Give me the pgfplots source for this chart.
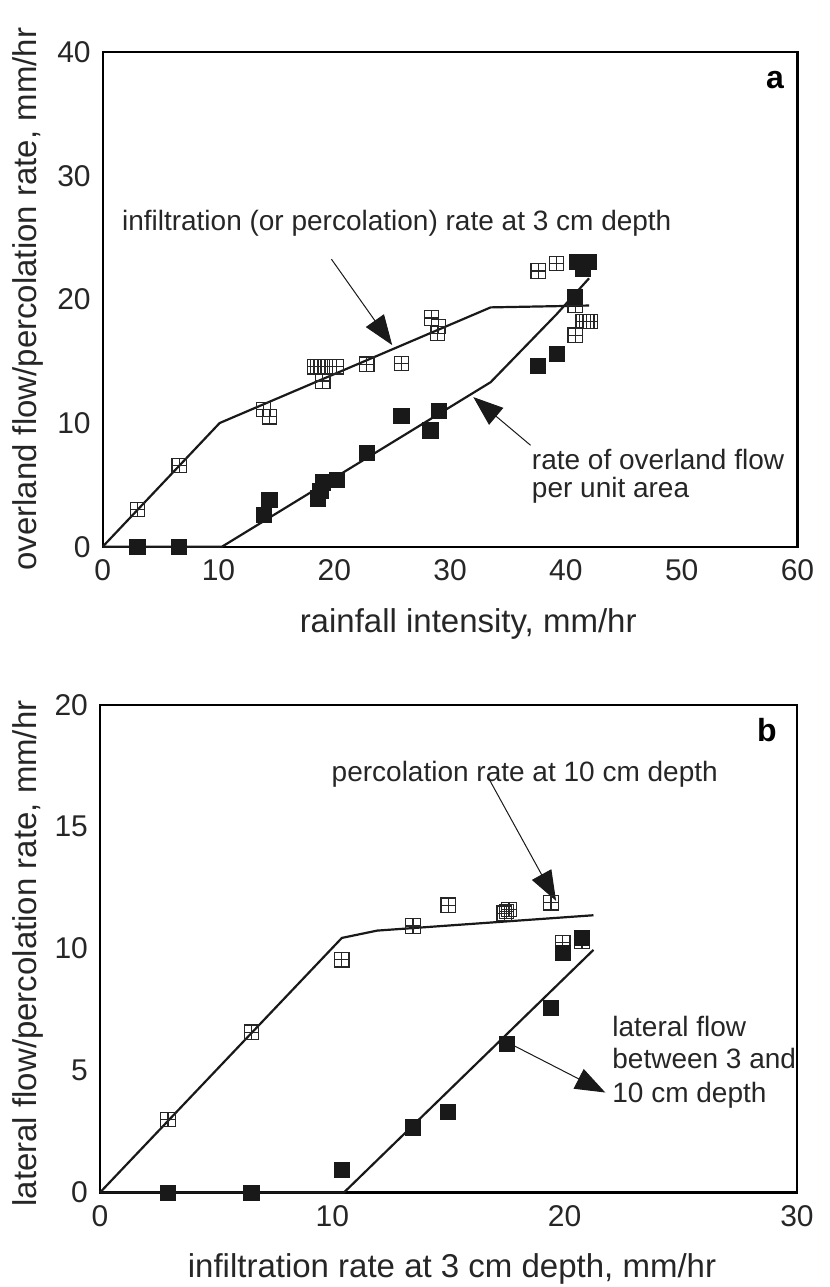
\documentclass[border=0pt]{standalone}
\usepackage{pgfplots}
\pgfplotsset{compat=1.18}
\usepackage{fontspec}
\setmainfont{Liberation Sans}
\usetikzlibrary{arrows.meta}

\pgfdeclareplotmark{sqplus}{%
 \pgfpathrectangle{\pgfpoint{-\pgfplotmarksize}{-\pgfplotmarksize}}{\pgfpoint{2\pgfplotmarksize}{2\pgfplotmarksize}}%
 \pgfpathmoveto{\pgfpoint{-\pgfplotmarksize}{0pt}}%
 \pgfpathlineto{\pgfpoint{\pgfplotmarksize}{0pt}}%
 \pgfpathmoveto{\pgfpoint{0pt}{-\pgfplotmarksize}}%
 \pgfpathlineto{\pgfpoint{0pt}{\pgfplotmarksize}}%
 \pgfusepathqstroke}

\pgfplotsset{
  panel/.style={
    scale only axis,
    axis line style={line width=1.1pt},
    major tick length=0pt,
    /pgf/number format/assume math mode=true,
    ticklabel style={font=\fontsize{15}{17}\selectfont, text=black!85},
    xticklabel style={yshift=-3pt},
    yticklabel style={xshift=-2.5pt},
    label style={font=\fontsize{16.5}{19}\selectfont, text=black!85},
    clip=false,
  },
  openm/.style={only marks, mark=sqplus, mark size=3.6pt, mark options={line width=0.6pt, draw=black!85}},
  fillm/.style={only marks, mark=square*, mark size=3.8pt, mark options={draw=black!90, fill=black!90}},
  ln/.style={no marks, line width=1.1pt, black!90},
}
\tikzset{
  ann/.style={font=\fontsize{14}{16}\selectfont, text=black!85},
  arr/.style={line width=0.5pt, -{Triangle[length=15pt,width=11pt]}, black!90},
}

\begin{document}
\begin{tikzpicture}[x=1pt,y=1pt]
\useasboundingbox (0,0) rectangle (415,643.5);
% ---------------- panel a
\begin{axis}[panel,
  at={(51.35pt,370.15pt)}, anchor=south west,
  width=347.4pt, height=247.35pt,
  xmin=0, xmax=60, ymin=0, ymax=40,
  xtick={0,10,...,60}, ytick={0,10,...,40},
  xlabel={rainfall intensity, mm/hr},
  ylabel={overland flow/percolation rate, mm/hr},
  xlabel style={at={(axis description cs:0.526,-0.157)}, anchor=center},
  ylabel style={at={(axis description cs:-0.108,0.5)}, anchor=center},
]
\addplot[ln] coordinates {(0,0) (10.1,10.0) (33.5,19.35) (42.0,19.5)};
\addplot[ln] coordinates {(0,0) (10.3,0) (33.5,13.3) (39.2,18.8) (42.0,21.7)};
\addplot[openm] coordinates {
 (3.0,3.0) (6.6,6.55) (13.9,11.1) (14.4,10.5)
 (18.3,14.55) (18.6,14.55) (18.8,14.55) (19.2,14.55) (20.2,14.55) (19.0,13.4)
 (22.8,14.75) (25.8,14.8) (28.4,18.5) (29.0,17.8) (28.9,17.25)
 (37.6,22.3) (39.2,22.9) (40.8,19.5) (41.5,18.2) (41.8,18.2) (42.1,18.2) (40.8,17.1)};
\addplot[fillm] coordinates {
 (3.0,0) (6.6,0) (13.9,2.6) (14.4,3.8) (18.6,3.9) (18.8,4.5) (19.0,5.2) (20.2,5.4)
 (22.8,7.6) (25.8,10.6) (28.3,9.4) (29.0,11.0) (37.6,14.6) (39.2,15.6)
 (40.8,20.2) (41.0,23.0) (41.5,22.5) (42.0,23.0)};
\node[ann, anchor=base west] at (axis cs:1.06,25.6) {infiltration (or percolation) rate at 3 cm depth};
\node[ann, anchor=base west] at (axis cs:36.46,6.28) {rate of overland flow};
\node[ann, anchor=base west] at (axis cs:36.46,4.0) {per unit area};
\node[font=\fontsize{16}{19}\selectfont\bfseries] at (axis cs:58.07,37.7) {a};
\draw[arr] (axis cs:19.75,23.25) -- (axis cs:25.0,16.3);
\draw[arr] (axis cs:36.95,8.2) -- (axis cs:32.0,12.1);
\end{axis}
% ---------------- panel b
\begin{axis}[panel,
  at={(50pt,47.25pt)}, anchor=south west,
  width=348.5pt, height=243.85pt,
  xmin=0, xmax=30, ymin=0, ymax=20,
  xtick={0,10,20,30}, ytick={0,5,...,20},
  xlabel={infiltration rate at 3 cm depth, mm/hr},
  ylabel={lateral flow/percolation rate, mm/hr},
  xlabel style={at={(axis description cs:0.505,-0.156)}, anchor=center},
  ylabel style={at={(axis description cs:-0.103,0.49)}, anchor=center},
]
\addplot[ln] coordinates {(0,0) (10.41,10.44) (11.93,10.74) (21.24,11.37)};
\addplot[ln] coordinates {(0,0) (10.5,0) (21.24,9.95)};
\addplot[openm] coordinates {
 (2.93,2.99) (6.52,6.57) (10.41,9.54) (13.47,10.93) (14.99,11.78)
 (17.4,11.45) (17.5,11.52) (17.6,11.6) (19.41,11.88) (19.92,10.24) (20.75,10.3)};
\addplot[fillm] coordinates {
 (2.93,0) (6.52,0) (10.41,0.93) (13.47,2.67) (14.99,3.31) (17.5,6.08) (19.41,7.56) (19.92,9.84) (20.75,10.44)};
\node[ann, anchor=base west] at (axis cs:9.67,16.87) {percolation rate at 10 cm depth};
\node[ann, anchor=base west] at (axis cs:21.75,6.4) {lateral flow};
\node[ann, anchor=base west] at (axis cs:21.75,5.09) {between 3 and};
\node[ann, anchor=base west] at (axis cs:21.75,3.7) {10 cm depth};
\node[font=\fontsize{16}{19}\selectfont\bfseries] at (axis cs:28.7,18.95) {b};
\draw[arr] (axis cs:16.72,17.0) -- (axis cs:19.63,11.96);
\draw[arr] (axis cs:17.82,6.02) -- (axis cs:21.75,4.1);
\end{axis}
\end{tikzpicture}
\end{document}
